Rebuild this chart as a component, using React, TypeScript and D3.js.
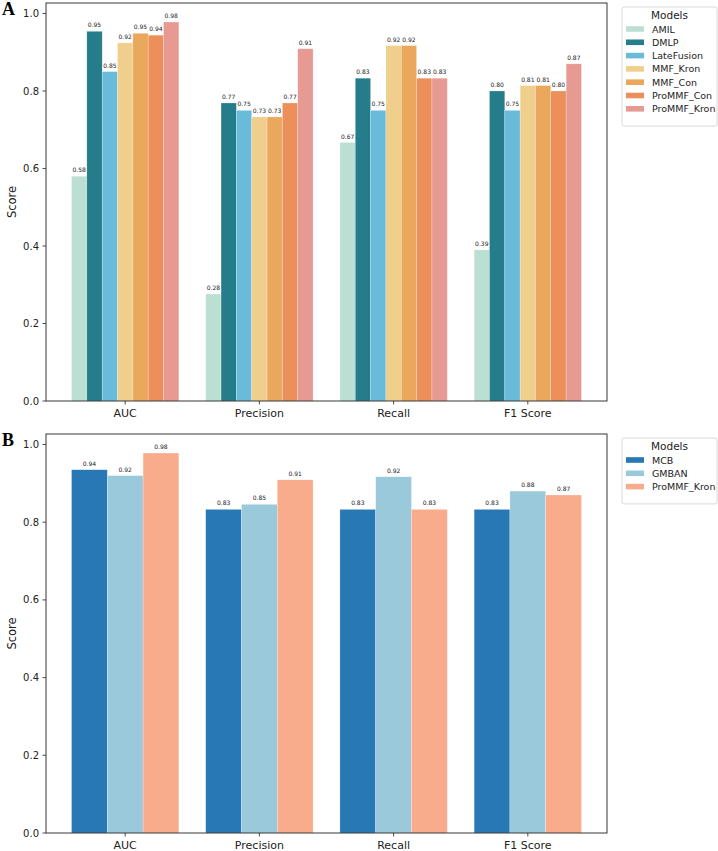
import React from "react";
import * as d3 from "d3";

// metric categories on the x axis
const metrics = ["AUC", "Precision", "Recall", "F1 Score"];

// panel A models and scores (one array per metric, in model order)
const modelsA = ["AMIL", "DMLP", "LateFusion", "MMF_Kron", "MMF_Con", "ProMMF_Con", "ProMMF_Kron"];
const colorsA = ["#bcdfd4", "#257c8a", "#69bcd9", "#f0ce8c", "#eaa85c", "#ec8f5a", "#e69a92"];
const aucA = [0.58, 0.954, 0.85, 0.924, 0.949, 0.944, 0.978];
const precisionA = [0.276, 0.769, 0.75, 0.733, 0.733, 0.769, 0.909];
const recallA = [0.667, 0.833, 0.75, 0.917, 0.917, 0.833, 0.833];
const f1A = [0.39, 0.8, 0.75, 0.814, 0.814, 0.8, 0.87];

// panel B models and scores
const modelsB = ["MCB", "GMBAN", "ProMMF_Kron"];
const colorsB = ["#2878b5", "#9ac9db", "#f8ac8c"];
const aucB = [0.935, 0.92, 0.978];
const precisionB = [0.833, 0.846, 0.909];
const recallB = [0.833, 0.917, 0.833];
const f1B = [0.833, 0.88, 0.87];

const yTicks = [0, 0.2, 0.4, 0.6, 0.8, 1.0];
const FONT = "DejaVu Sans, sans-serif";

interface PanelProps {
  letter: string;
  models: string[];
  colors: string[];
  values: number[][]; // [metric][model]
  top: number;
  bottom: number;
}

const Panel: React.FC<PanelProps> = ({ letter, models, colors, values, top, bottom }) => {
  const left = 46;
  const right = 607;
  const n = models.length;
  const barW = 0.8 / n;

  const x = d3.scaleLinear().domain([-0.59, 3.59]).range([left, right]);
  const y = d3.scaleLinear().domain([0, 1.027]).range([bottom, top]);

  const legendTop = top + 4;
  const legendH = 26 + n * 13.3;

  return (
    <g>
      <text x={2} y={top + 12} fontFamily="Liberation Serif, Times New Roman, serif" fontWeight="bold" fontSize={18}>
        {letter}
      </text>

      {/* bars */}
      {values.map((row, i) =>
        row.map((v, j) => {
          const cx = i + (j - (n - 1) / 2) * barW;
          const x0 = x(cx - barW / 2);
          const x1 = x(cx + barW / 2);
          return (
            <g key={`${i}-${j}`}>
              <rect
                x={x0}
                y={y(v)}
                width={x1 - x0}
                height={bottom - y(v)}
                fill={colors[j]}
                stroke="#ffffff"
                strokeOpacity={0.5}
                strokeWidth={0.5}
              />
              <text
                x={(x0 + x1) / 2}
                y={y(v) - 4}
                textAnchor="middle"
                fontFamily={FONT}
                fontSize={6}
                fill="#222"
              >
                {v.toFixed(2)}
              </text>
            </g>
          );
        })
      )}

      {/* frame */}
      <rect x={left} y={top} width={right - left} height={bottom - top} fill="none" stroke="#222" strokeWidth={0.9} />

      {/* y axis */}
      {yTicks.map((t) => (
        <g key={t}>
          <line x1={left - 3.5} x2={left} y1={y(t)} y2={y(t)} stroke="#222" strokeWidth={0.8} />
          <text x={left - 7} y={y(t) + 3.6} textAnchor="end" fontFamily={FONT} fontSize={10} fill="#222">
            {t.toFixed(1)}
          </text>
        </g>
      ))}
      <text
        transform={`translate(16, ${(top + bottom) / 2}) rotate(-90)`}
        textAnchor="middle"
        fontFamily={FONT}
        fontSize={11.5}
        fill="#222"
      >
        Score
      </text>

      {/* x axis */}
      {metrics.map((m, i) => (
        <g key={m}>
          <line x1={x(i)} x2={x(i)} y1={bottom} y2={bottom + 3.5} stroke="#222" strokeWidth={0.8} />
          <text x={x(i)} y={bottom + 16} textAnchor="middle" fontFamily={FONT} fontSize={11} fill="#222">
            {m}
          </text>
        </g>
      ))}

      {/* legend */}
      <rect x={622} y={legendTop} width={95} height={legendH} rx={2} fill="#fff" stroke="#d0d0d0" strokeWidth={0.8} />
      <text x={669.5} y={legendTop + 12} textAnchor="middle" fontFamily={FONT} fontSize={10.5} fill="#222">
        Models
      </text>
      {models.map((m, j) => {
        const cy = legendTop + 22 + j * 13.3;
        return (
          <g key={m}>
            <rect x={626} y={cy - 2.8} width={18} height={5.6} fill={colors[j]} />
            <text x={652} y={cy + 3.5} fontFamily={FONT} fontSize={9.5} fill="#222">
              {m}
            </text>
          </g>
        );
      })}
    </g>
  );
};

export default function App() {
  const dataA = [aucA, precisionA, recallA, f1A];
  const dataB = [aucB, precisionB, recallB, f1B];
  return (
    <svg
      width={718}
      height={851}
      style={{ position: "absolute", left: 0, top: 0, background: "#fff" }}
    >
      <rect width={718} height={851} fill="#fff" />
      <Panel letter="A" models={modelsA} colors={colorsA} values={dataA} top={3} bottom={401} />
      <Panel letter="B" models={modelsB} colors={colorsB} values={dataB} top={434} bottom={833} />
    </svg>
  );
}
